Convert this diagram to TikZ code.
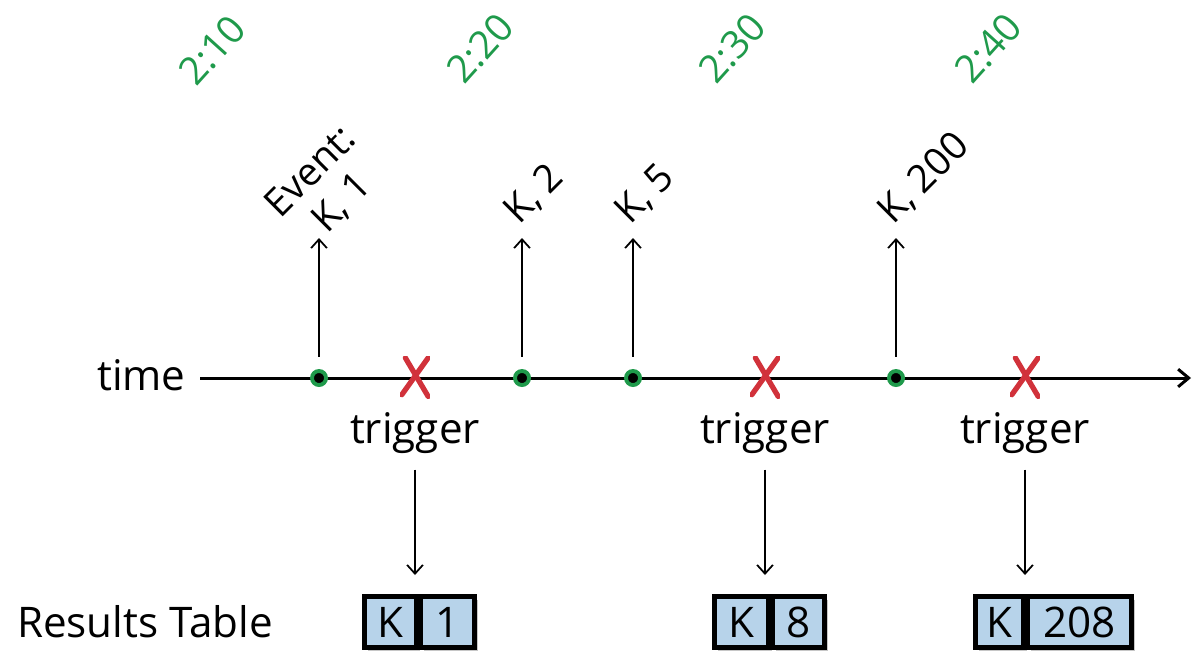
\documentclass[tikz,border=0pt]{standalone}
\usepackage{fontspec}
\setmainfont{Open Sans}
\usetikzlibrary{arrows.meta,shadows}
\definecolor{grn}{HTML}{1F9A4B}
\definecolor{redx}{HTML}{D1323B}
\definecolor{cellblue}{HTML}{B7D3EA}
\tikzset{
  lbl/.style={font=\fontsize{24}{28}\selectfont, inner sep=0pt},
  evt/.style={font=\fontsize{22}{26}\selectfont, rotate=45, anchor=base west, inner sep=0pt},
  tlbl/.style={font=\fontsize{22}{26}\selectfont, text=grn, rotate=48, inner sep=0pt},
  axisline/.style={line width=1.7pt, -{Straight Barb[length=6pt,width=10pt]}},
  arr/.style={line width=1pt, -{Straight Barb[length=5pt,width=9pt]}},
  evdot/.style={circle, fill=black, draw=grn, line width=2.2pt, inner sep=0pt, minimum size=8pt},
  xmark/.style={minimum width=17pt, minimum height=25pt, inner sep=0pt,
    path picture={
      \draw[redx, line width=3pt, line cap=round]
        ([xshift=3pt,yshift=-1pt]path picture bounding box.north west) -- ([xshift=-1pt,yshift=2pt]path picture bounding box.south east);
      \draw[redx, line width=3pt, line cap=round]
        ([xshift=-1pt,yshift=-1pt]path picture bounding box.north east) -- ([xshift=1pt,yshift=3pt]path picture bounding box.south west);
    }},
  cell/.style={draw, line width=2.6pt, fill=cellblue, minimum height=28.9pt, inner sep=0pt,
    anchor=west, font=\fontsize{24}{28}\selectfont,
    drop shadow={shadow xshift=2pt, shadow yshift=-2pt, opacity=0.45}}
}
\begin{document}
\begin{tikzpicture}[x=0.02cm,y=-0.02cm]
\useasboundingbox (0,0) rectangle (1193,653);

% time labels
\node[tlbl] (t10) at (212,50) {2:10};
\node[tlbl] (t20) at (480,48) {2:20};
\node[tlbl] (t30) at (732,48) {2:30};
\node[tlbl] (t40) at (988,48) {2:40};

% time axis
\node[lbl, anchor=east] (time) at (186,375) {time};
\coordinate (axS) at (200,378);
\coordinate (axE) at (1191,378);
\draw[axisline] (axS) -- (axE);

% events
\node[evdot] (e1) at (319,378) {};
\node[evdot] (e2) at (522,378) {};
\node[evdot] (e3) at (633,378) {};
\node[evdot] (e4) at (896,378) {};

\node[font=\fontsize{22}{25}\selectfont, rotate=45, align=center, inner sep=0pt, anchor=south] (ev1) at (354,215) {Event:\\K, 1};
\node[evt] (ev2) at (519,226) {K, 2};
\node[evt] (ev3) at (630,226) {K, 5};
\node[evt] (ev4) at (893,226) {K, 200};

\coordinate (u1) at (319,238);
\coordinate (u2) at (522,238);
\coordinate (u3) at (633,238);
\coordinate (u4) at (896,238);

\draw[arr, shorten <=7pt] (e1) -- (u1);
\draw[arr, shorten <=7pt] (e2) -- (u2);
\draw[arr, shorten <=7pt] (e3) -- (u3);
\draw[arr, shorten <=7pt] (e4) -- (u4);

% triggers
\node[xmark] (x1) at (415,378) {};
\node[xmark] (x2) at (765,378) {};
\node[xmark] (x3) at (1025,378) {};

\node[lbl] (tr1) at (415,433) {trigger};
\node[lbl] (tr2) at (765,433) {trigger};
\node[lbl] (tr3) at (1025,433) {trigger};

% result boxes
\node[cell, minimum width=29.5pt] (b1k) at (362,622) {K};
\node[cell, minimum width=30.6pt] (b1v) at (b1k.east) {1};
\node[cell, minimum width=30.6pt] (b2k) at (712,622) {K};
\node[cell, minimum width=29.5pt] (b2v) at (b2k.east) {8};
\node[cell, minimum width=27.2pt] (b3k) at (973,622) {K};
\node[cell, minimum width=59pt] (b3v) at (b3k.east) {208};

\node[lbl] (rt) at (145,622) {Results Table};

\draw[arr, shorten <=9pt, shorten >=11pt] (tr1) -- (tr1 |- b1k.north);
\draw[arr, shorten <=9pt, shorten >=11pt] (tr2) -- (tr2 |- b2k.north);
\draw[arr, shorten <=9pt, shorten >=11pt] (tr3) -- (tr3 |- b3k.north);
\end{tikzpicture}
\end{document}
